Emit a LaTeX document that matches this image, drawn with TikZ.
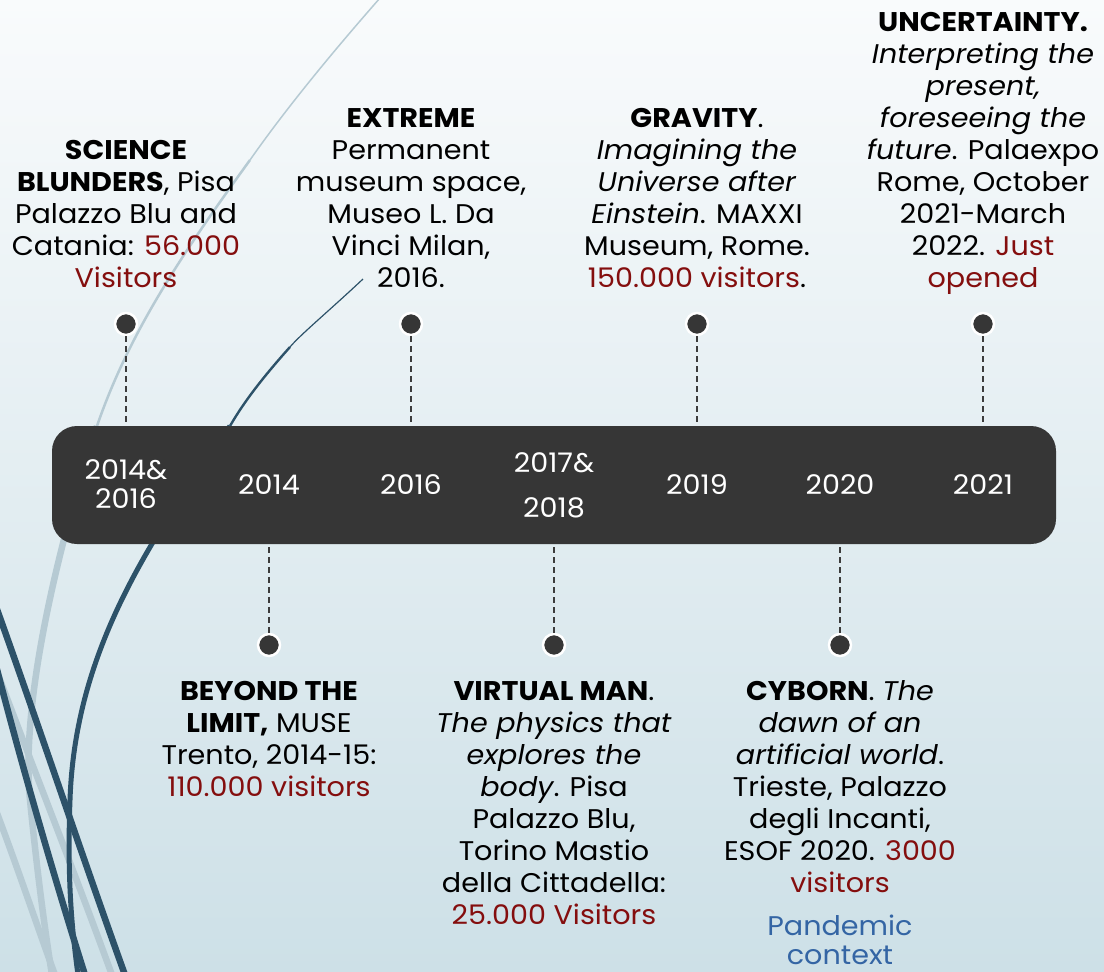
\documentclass[tikz,border=0pt]{standalone}
\usepackage{fontspec}
\setmainfont{Poppins}[FakeStretch=1.06]
\definecolor{bgtop}{RGB}{249,251,252}
\definecolor{bgbot}{RGB}{205,224,231}
\definecolor{bardark}{RGB}{54,54,54}
\definecolor{stemgray}{RGB}{60,60,60}
\definecolor{redv}{RGB}{132,14,14}
\definecolor{pblue}{RGB}{52,101,164}
\definecolor{swdark}{RGB}{45,82,105}
\definecolor{swlight}{RGB}{182,202,211}
\begin{document}
\begin{tikzpicture}[x=1pt,y=-1pt,
  txt/.style={font=\fontsize{27}{32}\selectfont, align=center, inner sep=0pt, anchor=north, text=black},
  yr/.style={font=\fontsize{27}{32}\selectfont, text=white, align=center, inner sep=0pt},
  dot/.style={circle, fill=bardark, draw=white, line width=2.5pt, minimum size=22pt, inner sep=0pt},
  stem/.style={draw=stemgray, line width=1.7pt, dash pattern=on 6pt off 4pt},
  bar/.style={fill=bardark, rounded corners=25pt, minimum width=1004pt, minimum height=118pt, inner sep=0pt},
  darkline/.style={draw=swdark, line width=6.5pt},
  lightline/.style={draw=swlight, line width=6.5pt},
]
\useasboundingbox (0,0) rectangle (1104,972);
\shade[top color=bgtop, bottom color=bgbot] (0,0) rectangle (1104,972);
\begin{scope}
\clip (0,0) rectangle (1104,972);
% light swooshes
\draw[lightline, line width=1.5pt] (380,-2) .. controls (330,55) and (285,110) .. (250,160);
\draw[lightline, line width=2.5pt] (250,160) .. controls (185,250) and (130,330) .. (97,426);
\draw[lightline] (97,426) .. controls (60,540) and (20,700) .. (30,800) .. controls (38,880) and (45,930) .. (52,975);
\draw[lightline] (-15,640) .. controls (30,760) and (70,860) .. (112,975);
\draw[lightline] (-8,800) .. controls (15,860) and (35,920) .. (55,975);
% dark swooshes
\draw[darkline, line width=1.2pt] (363,279) .. controls (330,310) and (300,335) .. (290,347);
\draw[darkline, line width=2.4pt] (290,347) .. controls (265,375) and (245,400) .. (230,426);
\draw[darkline, line width=5pt] (230,426) .. controls (150,540) and (75,650) .. (70,800) .. controls (67,880) and (72,930) .. (78,975);
\draw[darkline] (-10,590) .. controls (30,700) and (80,850) .. (125,975);
\draw[darkline] (-8,650) .. controls (20,760) and (55,880) .. (85,975);
\end{scope}

% timeline bar
\node[bar] (bar) at (554,485) {};

% dots
\node[dot] (d1) at (126,324) {};
\node[dot] (d2) at (411,324) {};
\node[dot] (d3) at (697,324) {};
\node[dot] (d4) at (983,324) {};
\node[dot] (d5) at (269,645) {};
\node[dot] (d6) at (554,645) {};
\node[dot] (d7) at (840,645) {};

% stems
\foreach \d in {d1,d2,d3,d4} \draw[stem] (\d.south) -- (\d.south |- bar.north);
\foreach \d in {d5,d6,d7} \draw[stem] (\d.north) -- (\d.north |- bar.south);

% years
\node[yr] (y1) at (126,484) {2014\&\\[-3pt]2016};
\node[yr] (y2) at (269,485) {2014};
\node[yr] (y3) at (411,485) {2016};
\node[yr] (y4) at (554,485) {2017\&\\[13pt]2018};
\node[yr] (y5) at (697,485) {2019};
\node[yr] (y6) at (840,485) {2020};
\node[yr] (y7) at (983,485) {2021};

% top texts
\node[txt] (t1) at (126,136.6) {\strut\textbf{SCIENCE}\\\textbf{BLUNDERS}, Pisa\\Palazzo Blu and\\Catania: \textcolor{redv}{56.000}\\\textcolor{redv}{Visitors}};
\node[txt] (t2) at (411,104.6) {\strut\textbf{EXTREME}\\Permanent\\museum space,\\Museo L. Da\\Vinci Milan,\\2016.};
\node[txt] (t3) at (697,104.6) {\strut\textbf{GRAVITY}.\\\textit{Imagining the}\\\textit{Universe after}\\\textit{Einstein}. MAXXI\\Museum, Rome.\\\textcolor{redv}{150.000 visitors}.};
\node[txt] (t4) at (983,8.6) {\strut\textbf{UNCERTAINTY.}\\\textit{Interpreting the}\\\textit{present,}\\\textit{foreseeing the}\\\textit{future}. Palaexpo\\Rome, October\\2021-March\\2022. \textcolor{redv}{Just}\\\textcolor{redv}{opened}};

% bottom texts
\node[txt] (b1) at (269,677.6) {\strut\textbf{BEYOND THE}\\\textbf{LIMIT,} MUSE\\Trento, 2014-15:\\\textcolor{redv}{110.000 visitors}};
\node[txt] (b2) at (554,677.6) {\strut\textbf{VIRTUAL MAN}.\\\textit{The physics that}\\\textit{explores the}\\\textit{body}. Pisa\\Palazzo Blu,\\Torino Mastio\\della Cittadella:\\\textcolor{redv}{25.000 Visitors}};
\node[txt] (b3) at (840,677.6) {\strut\textbf{CYBORN}. \textit{The}\\\textit{dawn of an}\\\textit{artificial world}.\\Trieste, Palazzo\\degli Incanti,\\ESOF 2020. \textcolor{redv}{3000}\\\textcolor{redv}{visitors}};
\node[txt, text=pblue, font=\fontsize{27}{29}\selectfont] (pc) at (840,914.5) {\strut Pandemic\\context};
\end{tikzpicture}
\end{document}
